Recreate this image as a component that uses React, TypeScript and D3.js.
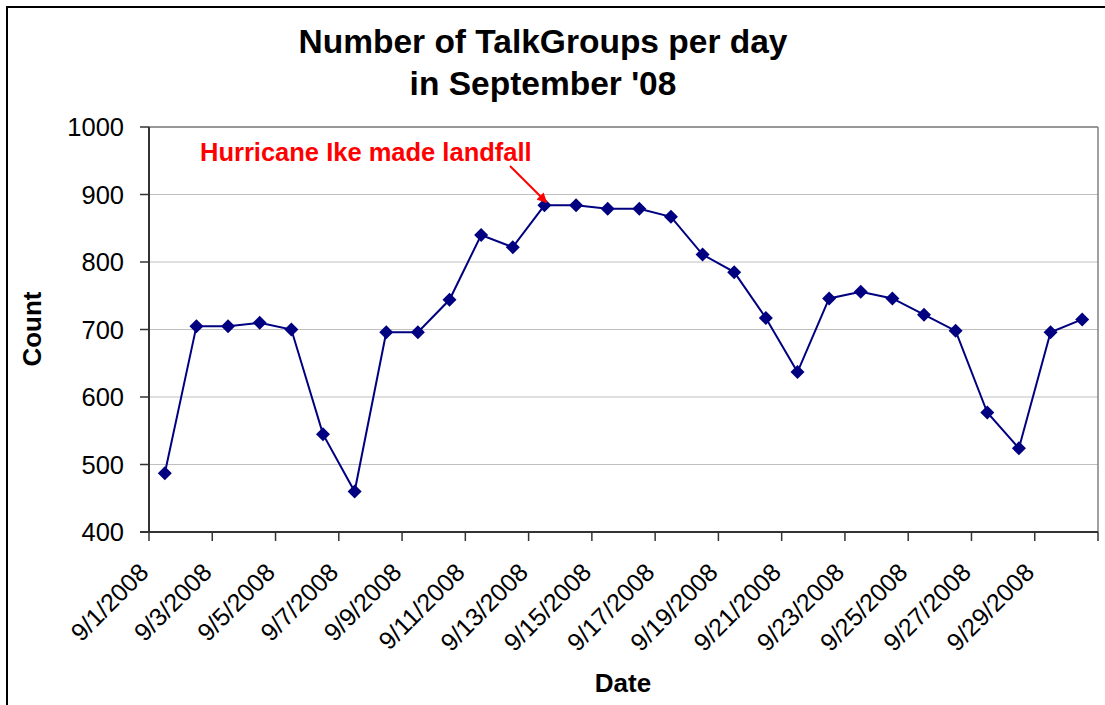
import React from "react";
import * as d3 from "d3";

const categories: string[] = [
  "9/1/2008","9/2/2008","9/3/2008","9/4/2008","9/5/2008","9/6/2008","9/7/2008","9/8/2008","9/9/2008","9/10/2008",
  "9/11/2008","9/12/2008","9/13/2008","9/14/2008","9/15/2008","9/16/2008","9/17/2008","9/18/2008","9/19/2008","9/20/2008",
  "9/21/2008","9/22/2008","9/23/2008","9/24/2008","9/25/2008","9/26/2008","9/27/2008","9/28/2008","9/29/2008","9/30/2008",
];
const counts: number[] = [
  487, 705, 705, 710, 700, 545, 460, 696, 696, 744,
  840, 822, 884, 884, 879, 879, 867, 811, 785, 717,
  637, 746, 756, 746, 722, 698, 577, 524, 696, 715,
];
const yTicks: number[] = [400, 500, 600, 700, 800, 900, 1000];
const annotationText = "Hurricane Ike made landfall";
const annotationIndex = 12;
const titleLines: string[] = ["Number of TalkGroups per day", "in September '08"];

export default function App() {
  const W = 1105, H = 705;
  const left = 149, right = 1098, top = 127, bottom = 532;
  const x = d3.scaleBand<string>().domain(categories).range([left, right]).paddingInner(0).paddingOuter(0);
  const y = d3.scaleLinear().domain([400, 1000]).range([bottom, top]);
  const bw = x.bandwidth();
  const cx = (c: string) => (x(c) as number) + bw / 2;

  const line = d3.line<number>()
    .x((_, i) => cx(categories[i]))
    .y((d) => y(d));

  const tickIdx = categories.map((_, i) => i).filter((i) => i % 2 === 0);
  const tickXs = [...tickIdx.map((i) => x(categories[i]) as number), right];

  const font = "'Liberation Sans', Arial, Helvetica, sans-serif";
  const r = 7;
  const diamond = (px: number, py: number) => `M${px},${py - r}L${px + r},${py}L${px},${py + r}L${px - r},${py}Z`;

  const ax = cx(categories[annotationIndex]);
  const ay = y(counts[annotationIndex]);

  return (
    <svg width={W} height={H} style={{ position: "absolute", left: 0, top: 0, background: "#fff" }} fontFamily={font}>
      <defs>
        <marker id="arrowhead" viewBox="0 0 10 10" refX="9" refY="5" markerWidth="5" markerHeight="5" orient="auto">
          <path d="M0,0L10,5L0,10Z" fill="#ff0000" />
        </marker>
      </defs>
      <rect x={7} y={7} width={1120} height={720} fill="#fff" stroke="#000" strokeWidth={2} />
      {titleLines.map((t, i) => (
        <text key={t} x={543} y={53 + i * 42} textAnchor="middle" fontSize={33.5} fontWeight="bold" fill="#000">{t}</text>
      ))}
      {yTicks.map((v) => (
        <line key={v} x1={left} x2={right} y1={y(v)} y2={y(v)} stroke="#c0c0c0" strokeWidth={1} />
      ))}
      <line x1={left} x2={right} y1={top} y2={top} stroke="#808080" strokeWidth={1.5} />
      <line x1={right} x2={right} y1={top} y2={bottom} stroke="#808080" strokeWidth={1.5} />
      <line x1={left} x2={left} y1={top} y2={bottom} stroke="#333" strokeWidth={2} />
      {yTicks.map((v) => (
        <g key={v}>
          <line x1={left - 9} x2={left} y1={y(v)} y2={y(v)} stroke="#333" strokeWidth={1.5} />
          <text x={124} y={y(v) + 9} textAnchor="end" fontSize={25.5} fill="#000">{v}</text>
        </g>
      ))}
      <line x1={left - 9} x2={right} y1={bottom} y2={bottom} stroke="#333" strokeWidth={2} />
      {tickXs.map((tx, k) => (
        <line key={k} x1={tx} x2={tx} y1={bottom} y2={bottom + 9} stroke="#333" strokeWidth={1.5} />
      ))}
      {tickIdx.map((i) => {
        const tx = x(categories[i]) as number;
        return (
          <text key={i} transform={`translate(${tx + 1},${574}) rotate(-45)`} textAnchor="end" fontSize={25} fill="#000">
            {categories[i]}
          </text>
        );
      })}
      <text x={623} y={692} textAnchor="middle" fontSize={26} fontWeight="bold" fill="#000">Date</text>
      <text transform={`translate(41,${329}) rotate(-90)`} textAnchor="middle" fontSize={26} fontWeight="bold" fill="#000">Count</text>
      <path d={line(counts) || ""} fill="none" stroke="#000080" strokeWidth={2} />
      {counts.map((v, i) => (
        <path key={i} d={diamond(cx(categories[i]), y(v))} fill="#000080" />
      ))}
      <text x={200} y={161} fontSize={25.5} fontWeight="bold" fill="#ff0000">{annotationText}</text>
      <line x1={510} y1={166} x2={ax + 2} y2={ay - 3} stroke="#ff0000" strokeWidth={2} markerEnd="url(#arrowhead)" />
    </svg>
  );
}
